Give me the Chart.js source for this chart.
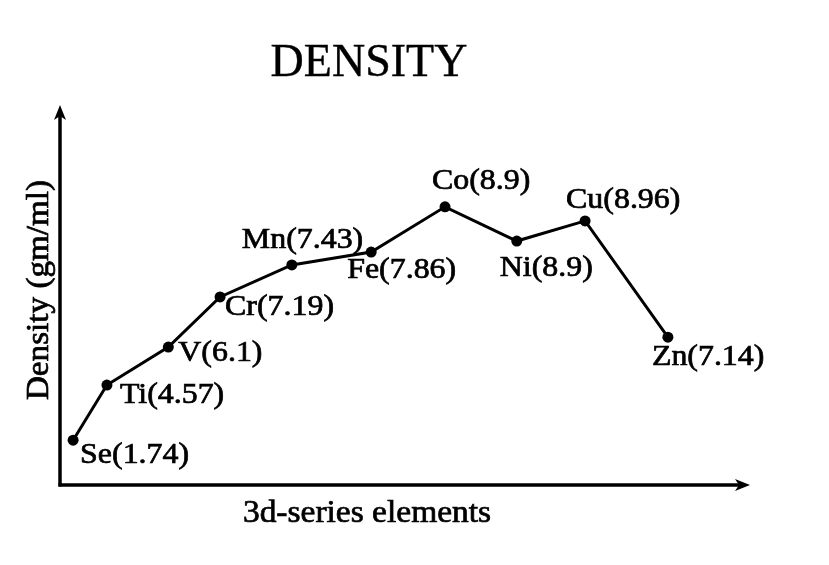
<!DOCTYPE html>
<html>
<head>
<meta charset="utf-8">
<script src="https://cdn.jsdelivr.net/npm/chart.js@4"></script>
<style>
  html, body { margin: 0; padding: 0; background: #fff; }
  canvas { display: block; }
</style>
</head>
<body>
<canvas id="chart" width="829" height="565"></canvas>
<script>
// data (positions along the hand-drawn axes, 0-10)
const elements = ["Se", "Ti", "V", "Cr", "Mn", "Fe", "Co", "Ni", "Cu", "Zn"];
const densityText = ["1.74", "4.57", "6.1", "7.19", "7.43", "7.86", "8.9", "8.9", "8.96", "7.14"];
const xPos = [0.19, 0.68, 1.57, 2.32, 3.36, 4.51, 5.58, 6.62, 7.61, 8.81];
const yPos = [1.18, 2.63, 3.63, 4.95, 5.79, 6.13, 7.32, 6.42, 6.95, 3.89];

const FONT = "'Liberation Serif', 'Times New Roman', serif";

// where each label sits relative to its dot (left edge, vertical middle)
const labelOffsets = [
  [7, 15], [13, 10], [10, 6], [5, 10], [-50, -25],
  [-24, 18], [-13, -25], [-17, 27], [-19, -21], [-16, 20]
];

//Helper: text a bit wider and heavier, like the scanned original
const drawText = (ctx, text, x, y, opts) => {
  ctx.save();
  ctx.translate(x, y);
  if (opts.rotate) ctx.rotate(opts.rotate);
  ctx.scale(opts.stretch || 1, 1);
  ctx.font = opts.font;
  ctx.textAlign = opts.align || "left";
  ctx.textBaseline = "middle";
  ctx.fillText(text, 0, 0);
  if (opts.stroke) {
    ctx.lineWidth = opts.stroke;
    ctx.strokeText(text, 0, 0);
  }
  ctx.restore();
};

//Helper plugin: axes with arrows, titles and point labels
const sketchPlugin = {
  id: "sketch",
  beforeDraw(chart) {
    const ctx = chart.ctx;
    ctx.save();
    ctx.fillStyle = "#fff";
    ctx.fillRect(0, 0, chart.width, chart.height);
    ctx.restore();
  },
  afterDatasetsDraw(chart) {
    const ctx = chart.ctx;
    const { left, right, top, bottom } = chart.chartArea;
    ctx.save();
    ctx.strokeStyle = "#000";
    ctx.fillStyle = "#000";
    ctx.lineWidth = 3.5;

    // y axis
    ctx.beginPath();
    ctx.moveTo(left, bottom + 1.5);
    ctx.lineTo(left, top + 10);
    ctx.stroke();
    ctx.beginPath();
    ctx.moveTo(left, top);
    ctx.lineTo(left - 6, top + 15);
    ctx.lineTo(left, top + 11);
    ctx.lineTo(left + 6, top + 15);
    ctx.closePath();
    ctx.fill();

    // x axis
    ctx.beginPath();
    ctx.moveTo(left - 1.5, bottom);
    ctx.lineTo(right - 10, bottom);
    ctx.stroke();
    ctx.beginPath();
    ctx.moveTo(right, bottom);
    ctx.lineTo(right - 15, bottom - 6);
    ctx.lineTo(right - 11, bottom);
    ctx.lineTo(right - 15, bottom + 6);
    ctx.closePath();
    ctx.fill();

    // point labels
    const meta = chart.getDatasetMeta(0);
    meta.data.forEach((pt, i) => {
      const [dx, dy] = labelOffsets[i];
      drawText(ctx, elements[i] + "(" + densityText[i] + ")", pt.x + dx, pt.y + dy, {
        font: "29px " + FONT,
        stretch: 1.1,
        stroke: 0.7,
      });
    });

    // title
    drawText(ctx, "DENSITY", 369, 64, { font: "46px " + FONT, align: "center", stroke: 0.4 });

    // axis titles
    drawText(ctx, "3d-series elements", 367, 514, {
      font: "31px " + FONT,
      align: "center",
      stretch: 1.08,
      stroke: 0.7,
    });
    drawText(ctx, "Density (gm/ml)", 40, 290, {
      font: "31px " + FONT,
      align: "center",
      rotate: -Math.PI / 2,
      stretch: 1.07,
      stroke: 0.7,
    });
    ctx.restore();
  }
};

new Chart(document.getElementById("chart"), {
  type: "line",
  data: {
    datasets: [
      {
        data: xPos.map((x, i) => ({ x, y: yPos[i] })),
        borderColor: "#000",
        borderWidth: 3,
        backgroundColor: "#000",
        pointRadius: 5.5,
        pointBackgroundColor: "#000",
        pointBorderWidth: 0,
        tension: 0,
      },
    ],
  },
  options: {
    responsive: false,
    animation: false,
    layout: { padding: { left: 60, right: 79, top: 105, bottom: 80 } },
    plugins: { legend: { display: false }, tooltip: { enabled: false } },
    scales: {
      x: { type: "linear", min: 0, max: 10, display: false },
      y: { min: 0, max: 10, display: false },
    },
  },
  plugins: [sketchPlugin],
});
</script>
</body>
</html>
